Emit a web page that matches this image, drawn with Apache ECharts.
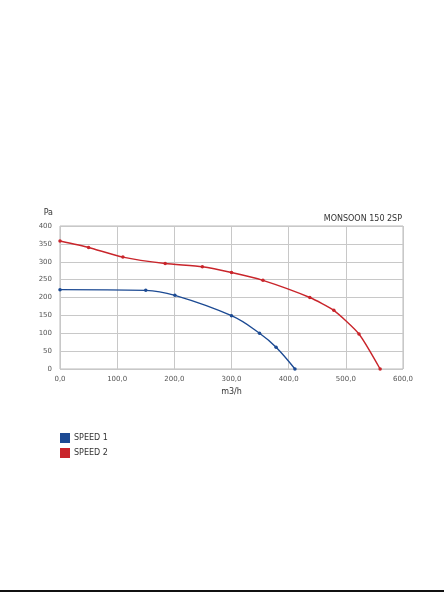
<!DOCTYPE html>
<html>
<head>
<meta charset="utf-8">
<script src="https://cdn.jsdelivr.net/npm/echarts@6/dist/echarts.min.js"></script>
<style>
  html, body { margin: 0; padding: 0; background: #fff; }
  #chart { width: 444px; height: 592px; }
</style>
</head>
<body>
<div id="chart"></div>
<script>
// air flow (m3/h) vs pressure (Pa)
const speed1 = [[0, 222], [150, 220], [201, 206], [300, 149], [349, 100], [378, 61], [411, 0]]
const speed2 = [[0, 358], [50, 340], [110, 313], [184, 295], [249, 286], [300, 270], [355, 248], [437, 200], [479, 164], [523, 98], [560, 0]]
const seriesNames = ['SPEED 1', 'SPEED 2']
const seriesColors = ['#1c4a93', '#c9252b']

const chart = echarts.init(document.getElementById('chart'))

const labelFont = { color: '#555', fontSize: 7, fontFamily: 'DejaVu Sans' }

const option = {
  animation: false,
  textStyle: { fontFamily: 'DejaVu Sans' },
  title: {
    text: 'MONSOON 150 2SP',
    right: 37,
    top: 210,
    textStyle: { fontSize: 8, fontWeight: 'normal', color: '#333', fontFamily: 'DejaVu Sans' }
  },
  legend: {
    orient: 'vertical',
    left: 55,
    top: 428,
    itemWidth: 10,
    itemHeight: 10,
    itemGap: 5,
    icon: 'rect',
    data: seriesNames,
    textStyle: { fontSize: 8, color: '#333', fontFamily: 'DejaVu Sans', padding: [0, 0, 0, -1] }
  },
  grid: {
    left: 60,
    right: 41,
    top: 226,
    bottom: 223,
    show: true,
    borderColor: '#bbb',
    borderWidth: 1
  },
  xAxis: {
    type: 'value',
    min: 0,
    max: 600,
    interval: 100,
    name: 'm3/h',
    nameLocation: 'middle',
    nameGap: 19,
    nameTextStyle: { fontSize: 8, color: '#333' },
    axisLine: { show: false },
    axisTick: { show: false },
    axisLabel: Object.assign({ margin: 7, formatter: v => v.toFixed(1).replace('.', ',') }, labelFont),
    splitLine: { lineStyle: { color: '#c8c8c8', width: 1 } }
  },
  yAxis: {
    type: 'value',
    min: 0,
    max: 400,
    interval: 50,
    name: 'Pa',
    nameLocation: 'end',
    nameGap: 9,
    nameTextStyle: { fontSize: 8, color: '#333', align: 'right', padding: [0, 7, 0, 0] },
    axisLine: { show: false },
    axisTick: { show: false },
    axisLabel: Object.assign({ margin: 8 }, labelFont),
    splitLine: { lineStyle: { color: '#c8c8c8', width: 1 } }
  },
  series: [
    {
      name: seriesNames[0],
      type: 'line',
      data: speed1,
      smooth: 0.4,
      symbol: 'circle',
      symbolSize: 3.5,
      itemStyle: { color: seriesColors[0] },
      lineStyle: { width: 1.4, color: seriesColors[0] }
    },
    {
      name: seriesNames[1],
      type: 'line',
      data: speed2,
      smooth: 0.2,
      symbol: 'circle',
      symbolSize: 3.5,
      itemStyle: { color: seriesColors[1] },
      lineStyle: { width: 1.4, color: seriesColors[1] }
    }
  ],
  graphic: [
    { type: 'rect', left: 0, top: 590, shape: { width: 444, height: 2 }, style: { fill: '#111' } }
  ]
}

chart.setOption(option)
</script>
</body>
</html>
